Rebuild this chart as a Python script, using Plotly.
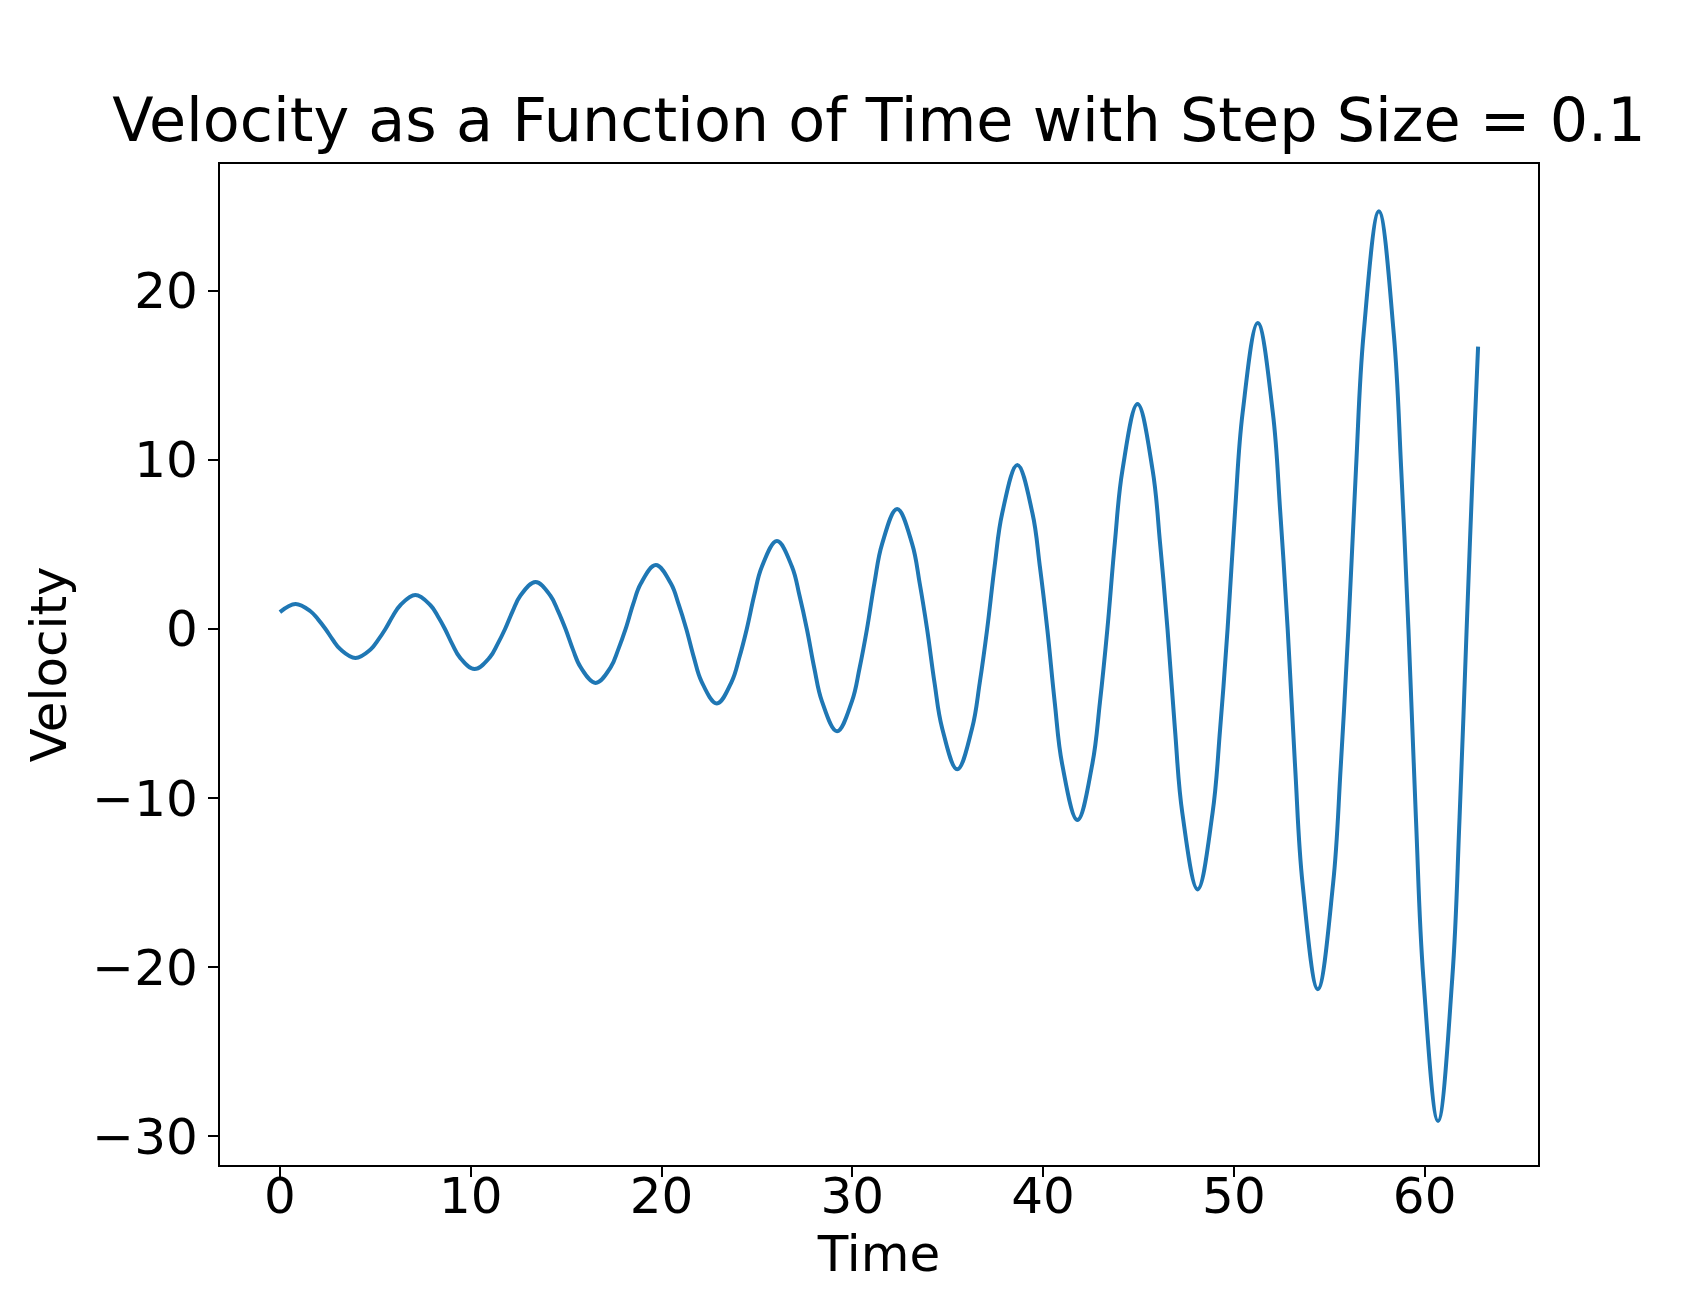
import plotly.graph_objects as go

# Werte, je Halbschwingung: Nulldurchgang, Flanken, Extremum
time = [0.0, 0.82, 1.6, 2.0,
        2.39, 2.78, 3.17, 3.96, 4.75, 5.14,
        5.53, 5.92, 6.32, 7.1, 7.88, 8.27,
        8.65, 9.04, 9.43, 10.2, 11.0, 11.4,
        11.8, 12.2, 12.6, 13.4, 14.18, 14.58,
        14.97, 15.36, 15.76, 16.55, 17.34, 17.73,
        18.12, 18.51, 18.91, 19.7, 20.5, 20.9,
        21.3, 21.7, 22.1, 22.9, 23.68, 24.08,
        24.47, 24.86, 25.26, 26.05, 26.84, 27.23,
        27.62, 28.01, 28.41, 29.2, 29.98, 30.38,
        30.77, 31.16, 31.56, 32.35, 33.14, 33.53,
        33.92, 34.31, 34.71, 35.5, 36.28, 36.68,
        37.07, 37.46, 37.86, 38.65, 39.44, 39.83,
        40.22, 40.61, 41.0, 41.8, 42.58, 42.98,
        43.37, 43.76, 44.16, 44.95, 45.74, 46.13,
        46.52, 46.91, 47.3, 48.1, 48.88, 49.28,
        49.67, 50.06, 50.46, 51.25, 52.04, 52.43,
        52.82, 53.21, 53.6, 54.4, 55.2, 55.6,
        56.0, 56.4, 56.8, 57.6, 58.38, 58.77,
        59.15, 59.54, 59.93, 60.7, 61.45, 61.83,
        62.2, 62.5, 62.8]
velocity = [1.0, 1.48, 1.05, 0.57,
            0.0, -0.65, -1.2, -1.71, -1.21, -0.66,
            0.0, 0.77, 1.42, 2.01, 1.42, 0.77,
            0.0, -0.91, -1.68, -2.37, -1.68, -0.91,
            0.0, 1.06, 1.97, 2.78, 1.97, 1.06,
            0.0, -1.22, -2.26, -3.19, -2.26, -1.22,
            0.0, 1.45, 2.67, 3.78, 2.67, 1.45,
            0.0, -1.69, -3.11, -4.4, -3.11, -1.69,
            0.0, 1.99, 3.68, 5.2, 3.68, 1.99,
            0.0, -2.32, -4.28, -6.05, -4.28, -2.32,
            0.0, 2.72, 5.02, 7.1, 5.02, 2.72,
            0.0, -3.18, -5.87, -8.3, -5.87, -3.18,
            0.0, 3.71, 6.86, 9.7, 6.86, 3.71,
            0.0, -4.33, -7.99, -11.3, -7.99, -4.33,
            0.0, 5.09, 9.4, 13.3, 9.4, 5.09,
            0.0, -5.9, -10.9, -15.4, -10.9, -5.9,
            0.0, 6.93, 12.8, 18.1, 12.8, 6.93,
            0.0, -8.16, -15.06, -21.3, -15.06, -8.16,
            0.0, 9.46, 17.46, 24.7, 17.46, 9.46,
            0.0, -11.14, -20.6, -29.1, -20.6, -11.14,
            0.0, 8.8, 16.7]

x_ticks = [0, 10, 20, 30, 40, 50, 60]
y_ticks = [-30, -20, -10, 0, 10, 20]

schrift = "DejaVu Sans"

fig = go.Figure()
fig.add_trace(go.Scatter(x=time, y=velocity, mode="lines",
                         line=dict(color="#1f77b4", width=4,
                                   shape="spline", smoothing=1.1)))

achse = dict(showline=True, linecolor="black", linewidth=2.2, mirror=True,
             ticks="outside", ticklen=10, tickwidth=2.2, tickcolor="black",
             showgrid=False, zeroline=False,
             tickfont=dict(family=schrift, size=50, color="black"))

fig.update_layout(
    width=1700, height=1300,
    margin=dict(l=212, r=170, t=156, b=143),
    paper_bgcolor="white", plot_bgcolor="white",
    showlegend=False,
    font=dict(family=schrift, color="black"),
    title=dict(text="Velocity as a Function of Time with Step Size = 0.1",
               font=dict(family=schrift, size=60.4, color="black"),
               x=0.5, xref="paper", xanchor="center",
               y=1 - 133 / 1300, yref="container", yanchor="bottom"),
    xaxis=dict(achse, range=[-3.14, 65.94], tickvals=x_ticks,
               ticklabelstandoff=-24,
               title=dict(text="Time", font=dict(family=schrift, size=50),
                          standoff=4)),
    yaxis=dict(achse, range=[-31.7, 27.5], tickvals=y_ticks,
               title=dict(text="Velocity", font=dict(family=schrift, size=50),
                          standoff=10)),
)

fig.write_html("out.html")
